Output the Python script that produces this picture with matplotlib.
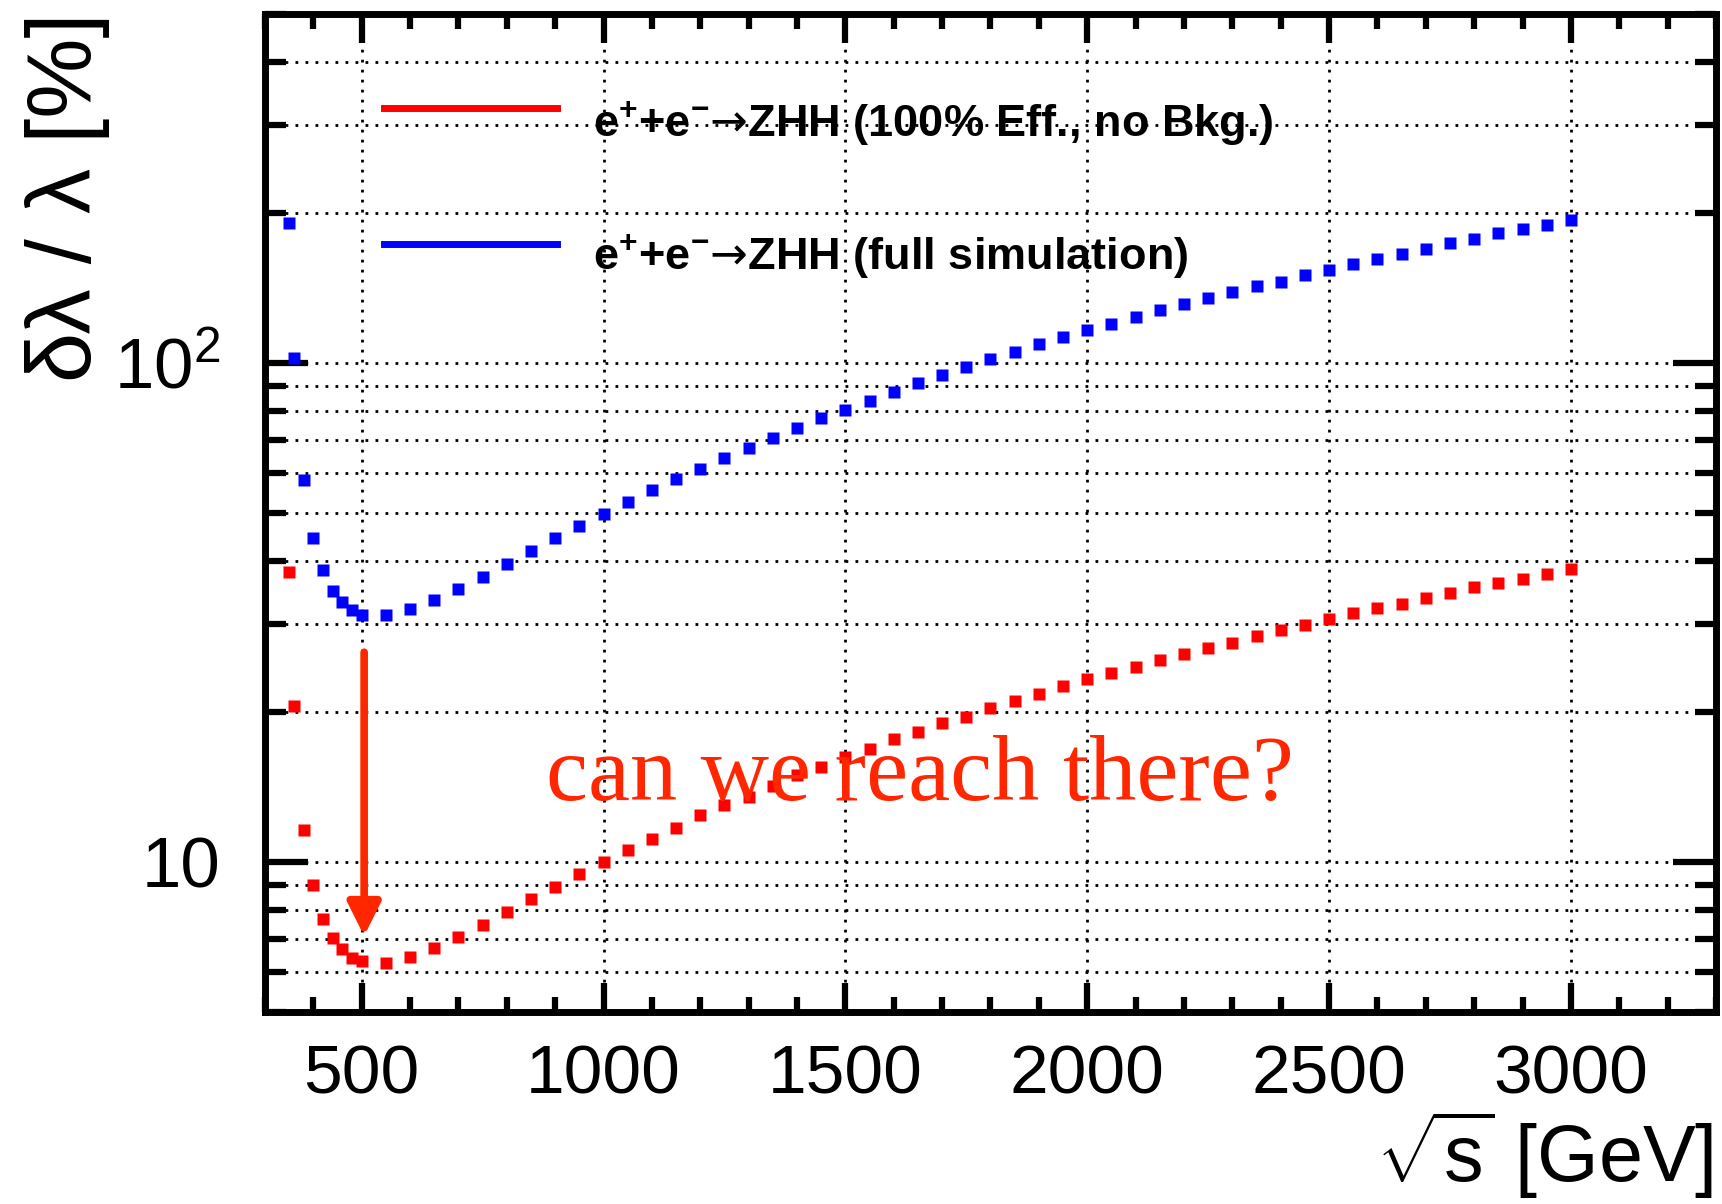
import matplotlib
matplotlib.use("Agg")
import matplotlib.pyplot as plt
from matplotlib.lines import Line2D
from matplotlib.ticker import FixedLocator, FixedFormatter, MultipleLocator, LogLocator, NullFormatter

# centre-of-mass energy points [GeV]
energy = [350, 360, 380, 400, 420, 440, 460, 480,
          500, 550, 600, 650, 700, 750, 800, 850, 900, 950,
          1000, 1050, 1100, 1150, 1200, 1250, 1300, 1350, 1400, 1450,
          1500, 1550, 1600, 1650, 1700, 1750, 1800, 1850, 1900, 1950,
          2000, 2050, 2100, 2150, 2200, 2250, 2300, 2350, 2400, 2450,
          2500, 2550, 2600, 2650, 2700, 2750, 2800, 2850, 2900, 2950,
          3000]

# delta lambda / lambda [%], full simulation (blue)
full_sim = [190.6, 102.0, 58.3, 44.6, 38.4, 34.9, 33.2, 32.0,
            31.3, 31.2, 32.1, 33.4, 35.2, 37.3, 39.6, 42.0, 44.5, 47.0,
            49.7, 52.6, 55.5, 58.5, 61.3, 64.4, 67.6, 70.8, 74.0, 77.4,
            80.5, 83.9, 87.5, 91.1, 94.6, 98.2, 101.9, 105.1, 108.9, 112.7,
            116.4, 119.7, 123.6, 127.4, 130.9, 134.7, 138.4, 142.3, 145.5, 149.8,
            153.5, 157.4, 161.1, 165.2, 169.4, 173.5, 177.0, 181.6, 185.2, 189.0,
            193.1]

# delta lambda / lambda [%], 100% efficiency and no background (red)
ideal = [38.1, 20.5, 11.6, 8.97, 7.69, 7.02, 6.70, 6.41,
         6.32, 6.27, 6.43, 6.73, 7.07, 7.47, 7.93, 8.41, 8.90, 9.44,
         10.0, 10.56, 11.1, 11.7, 12.4, 13.0, 13.5, 14.2, 14.9, 15.5,
         16.2, 16.8, 17.6, 18.2, 19.0, 19.5, 20.3, 21.0, 21.7, 22.5,
         23.2, 23.9, 24.6, 25.4, 26.1, 26.8, 27.5, 28.3, 29.1, 29.8,
         30.7, 31.5, 32.2, 32.9, 33.8, 34.6, 35.5, 36.2, 36.9, 37.8,
         38.6]

x_ticks = [500, 1000, 1500, 2000, 2500, 3000]
y_ticks = [10, 100]
y_tick_labels = ["10", r"$10^{2}$"]

label_ideal = r"e$^{\mathbf{+}}$+e$^{\mathbf{-}}\mathsf{→}$ZHH (100% Eff., no Bkg.)"
label_full = r"e$^{\mathbf{+}}$+e$^{\mathbf{-}}\mathsf{→}$ZHH (full simulation)"

plt.rcParams["font.family"] = ["Liberation Sans", "DejaVu Sans"]
plt.rcParams["mathtext.fontset"] = "custom"
plt.rcParams["mathtext.rm"] = "Liberation Sans"
plt.rcParams["mathtext.bf"] = "Liberation Sans:bold"
plt.rcParams["mathtext.it"] = "Liberation Sans:italic"
plt.rcParams["mathtext.sf"] = "DejaVu Sans"

RED = "#ff0000"
BLUE = "#0000ff"
ANNOT = "#ff2600"

fig = plt.figure(figsize=(17.22, 12.04), dpi=100)
ax = fig.add_axes([265 / 1722, 1 - 1012 / 1204, 1451 / 1722, 998 / 1204])

ax.plot(energy, ideal, "s", color=RED, ms=8.5, mec="none", clip_on=False, zorder=3)
ax.plot(energy, full_sim, "s", color=BLUE, ms=8.5, mec="none", clip_on=False, zorder=3)

ax.set_yscale("log")
ax.set_xlim(300, 3300)
ax.set_ylim(5, 500)

ax.xaxis.set_major_locator(FixedLocator(x_ticks))
ax.xaxis.set_minor_locator(MultipleLocator(100))
ax.yaxis.set_major_locator(FixedLocator(y_ticks))
ax.yaxis.set_major_formatter(FixedFormatter(y_tick_labels))
ax.yaxis.set_minor_locator(LogLocator(base=10, subs=[2, 3, 4, 5, 6, 7, 8, 9]))
ax.yaxis.set_minor_formatter(NullFormatter())

for s in ax.spines.values():
    s.set_linewidth(5)

ax.tick_params(which="both", direction="in", top=True, right=True, width=4.5)
ax.tick_params(axis="x", which="major", length=21, labelsize=50, pad=23)
ax.tick_params(axis="x", which="minor", length=11)
ax.tick_params(axis="y", which="major", length=31, labelsize=51, pad=32)
ax.tick_params(axis="y", which="minor", length=15)

dots = (0, (1, 2.6))
ax.grid(True, axis="x", which="major", color="black", linestyle=dots, linewidth=2)
ax.grid(True, axis="y", which="both", color="black", linestyle=dots, linewidth=2)
ax.set_axisbelow(True)

# legend drawn by hand to keep the ROOT-style placement
for yl, yt, col, txt in [(0.906, 0.890, RED, label_ideal), (0.770, 0.757, BLUE, label_full)]:
    ax.add_line(Line2D([0.082, 0.201], [yl, yl], transform=ax.transAxes, color=col, lw=5))
    ax.text(0.226, yt, txt, transform=ax.transAxes, fontsize=32.5, fontweight="bold",
            va="center", ha="left")

# annotation
ax.annotate("", xy=(505, 7.1), xytext=(505, 26.3),
            arrowprops=dict(arrowstyle="-|>,head_length=2.0,head_width=1.0",
                            mutation_scale=10, lw=5.5, color=ANNOT,
                            shrinkA=0, shrinkB=0))
ax.text(880, 13.3, "can we reach there?", color=ANNOT, fontsize=68,
        family="Liberation Serif", va="baseline", ha="left")

fig.text(25 / 1722, 1 - 12 / 1204, "δλ / λ [%]", rotation=90, fontsize=65,
         ha="left", va="top")
fig.text(1713 / 1722, 3 / 1204, r"$\sqrt{\mathrm{s}}$ [GeV]", fontsize=57,
         ha="right", va="bottom")

fig.savefig("out.png", dpi=100)
